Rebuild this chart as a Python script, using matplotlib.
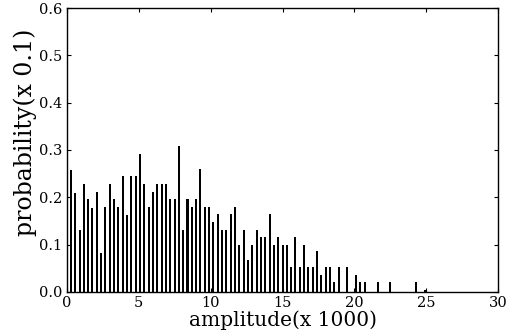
import numpy as np
import matplotlib
matplotlib.use('Agg')
import matplotlib.pyplot as plt

# amplitude histogram (units of 1000), bins every 300
bin_step = 0.3
probability = [
    0.258, 0.210, 0.131, 0.228, 0.196, 0.178, 0.211, 0.083, 0.179, 0.228,
    0.196, 0.179, 0.244, 0.163, 0.244, 0.244, 0.292, 0.228, 0.179, 0.211,
    0.228, 0.228, 0.228, 0.196, 0.196, 0.309, 0.131, 0.196, 0.179, 0.196,
    0.259, 0.179, 0.179, 0.148, 0.164, 0.131, 0.131, 0.164, 0.180, 0.100,
    0.131, 0.068, 0.100, 0.131, 0.117, 0.117, 0.164, 0.100, 0.117, 0.100,
    0.100, 0.052, 0.117, 0.052, 0.100, 0.052, 0.052, 0.086, 0.035, 0.052,
    0.052, 0.020, 0.052, 0.000, 0.052, 0.000, 0.035, 0.020, 0.020, 0.000,
    0.000, 0.020, 0.000, 0.000, 0.020, 0.000, 0.000, 0.000, 0.000, 0.000,
    0.020, 0.000, 0.004,
]
amplitude = bin_step * (np.arange(len(probability)) + 1)

xticks = [0, 5, 10, 15, 20, 25, 30]
yticks = [0.0, 0.1, 0.2, 0.3, 0.4, 0.5, 0.6]

plt.rcParams['font.family'] = 'DejaVu Serif'

fig = plt.figure(figsize=(5.16, 3.34), dpi=100)
ax = fig.add_axes([0.129, 0.126, 0.837, 0.850])

ax.bar(amplitude, probability, width=0.14, color='black', align='center')

ax.set_xlim(0, 30)
ax.set_ylim(0, 0.6)
ax.set_xticks(xticks)
ax.set_yticks(yticks)
ax.set_yticklabels([f'{v:.1f}' for v in yticks])
ax.tick_params(direction='in', length=3, width=0.8, top=True, right=True,
               labelsize=10.5)
ax.tick_params(axis='x', pad=3)
ax.tick_params(axis='y', pad=3)

ax.set_xlabel('amplitude(x 1000)', fontsize=14.5, labelpad=0)
ax.set_ylabel('probability(x 0.1)', fontsize=17)
# label sits a bit above the axes centre in the original
ax.yaxis.set_label_coords(-0.068, 0.563)

for s in ax.spines.values():
    s.set_linewidth(1.0)

fig.savefig('out.png', dpi=100)
